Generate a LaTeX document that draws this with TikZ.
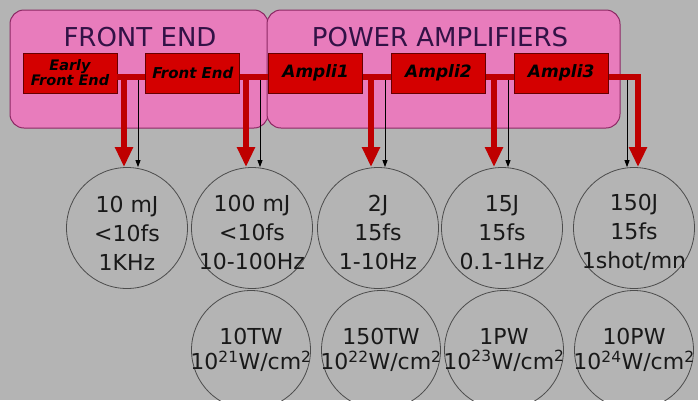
\documentclass[tikz,border=0pt]{standalone}
\usepackage{fontspec}
\setmainfont{DejaVu Sans}
\usetikzlibrary{positioning,arrows.meta}
\definecolor{fondo}{RGB}{180,180,180}
\definecolor{rosa}{RGB}{232,124,188}
\definecolor{rosaborde}{RGB}{140,40,100}
\definecolor{rojo}{RGB}{212,0,0}
\definecolor{titulo}{RGB}{50,18,70}

\begin{document}
\begin{tikzpicture}[x=1pt, y=-1pt, node distance=28pt, every node/.style={align=center, inner sep=0pt},
  grupo/.style={draw=rosaborde, line width=1pt, fill=rosa, rounded corners=14pt, minimum height=118pt},
  rotulo/.style={font=\fontsize{26}{28}\selectfont, text=titulo},
  caja/.style={draw=black!60!red, line width=0.8pt, fill=rojo, minimum width=94pt, minimum height=40pt, font=\bfseries\itshape\fontsize{15}{15}\selectfont},
  circulo/.style={circle, draw=black!70, line width=0.8pt, inner sep=-25pt, minimum size=121pt, font=\fontsize{22}{29}\selectfont, text=black!90},
  potencia/.style={circulo, minimum size=119pt, font=\fontsize{22}{25}\selectfont},
  linea/.style={draw=rojo!90!black, line width=5.5pt},
  flecha/.style={draw=rojo!90!black, line width=5.5pt, -{Triangle[width=17pt, length=20pt]}},
  flechita/.style={black, line width=0.8pt, -{Triangle[width=5pt, length=7pt]}}]
\useasboundingbox[fill=fondo] (0,0) rectangle (698,400);
\node[grupo, minimum width=258pt] (gfe) at (139,69) {};
\node[grupo, minimum width=353pt] (gpa) at (443.5,69) {};
\node[rotulo] (tfe) at (140,37) {FRONT END};
\node[rotulo] (tpa) at (440,37) {POWER AMPLIFIERS};
\node[caja, font=\bfseries\itshape\fontsize{14.5}{14}\selectfont] (efe) at (70,73) {Early\\Front End};
\node[caja, right=of efe] (fe) {Front End};
\node[caja, right=of fe, font=\bfseries\itshape\fontsize{17}{17}\selectfont] (a1) {Ampli1};
\node[caja, right=of a1, font=\bfseries\itshape\fontsize{17}{17}\selectfont] (a2) {Ampli2};
\node[caja, right=of a2, font=\bfseries\itshape\fontsize{17}{17}\selectfont] (a3) {Ampli3};
% haces
\node[circulo] (c1) at (127,228) {\rule{0pt}{26pt}10 mJ\\<10fs\\1KHz};
\node[circulo] (c2) at (252,228) {\rule{0pt}{26pt}100 mJ\\<10fs\\10-100Hz};
\node[circulo] (c3) at (378,228) {\rule{0pt}{26pt}2J\\15fs\\1-10Hz};
\node[circulo] (c4) at (502,228) {\rule{0pt}{26pt}15J\\15fs\\0.1-1Hz};
\node[circulo] (c5) at (634,228) {\rule{0pt}{26pt}150J\\15fs\\1shot/mn};
\node[potencia] (p2) at (251,350) {10TW\\10\textsuperscript{21}W/cm\textsuperscript{2}};
\node[potencia] (p3) at (381,350) {150TW\\10\textsuperscript{22}W/cm\textsuperscript{2}};
\node[potencia] (p4) at (504,350) {1PW\\10\textsuperscript{23}W/cm\textsuperscript{2}};
\node[potencia] (p5) at (634,350) {10PW\\10\textsuperscript{24}W/cm\textsuperscript{2}};
% salidas
\coordinate (r1) at (124,77); \coordinate (r2) at (246,77); \coordinate (r3) at (371,77); \coordinate (r4) at (494,77); \coordinate (r5) at (638,77);
\coordinate (n1) at (138,80); \coordinate (n2) at (260,80); \coordinate (n3) at (385,80); \coordinate (n4) at (508,80); \coordinate (n5) at (627,80);
\draw[linea] ([yshift=-4pt]efe.east) -- ([yshift=-4pt]fe.west); \draw[linea] ([yshift=-4pt]fe.east) -- ([yshift=-4pt]a1.west);
\draw[linea] ([yshift=-4pt]a1.east) -- ([yshift=-4pt]a2.west); \draw[linea] ([yshift=-4pt]a2.east) -- ([yshift=-4pt]a3.west);
\draw[flecha] (r1) -- (r1 |- c1.north); \draw[flecha] (r2) -- (r2 |- c2.north); \draw[flecha] (r3) -- (r3 |- c3.north);
\draw[flecha] (r4) -- (r4 |- c4.north); \draw[flecha] ([yshift=-4pt]a3.east) -| (r5 |- c5.north);
\draw[flechita] (n1) -- (n1 |- c1.north); \draw[flechita] (n2) -- (n2 |- c2.north); \draw[flechita] (n3) -- (n3 |- c3.north);
\draw[flechita] (n4) -- (n4 |- c4.north); \draw[flechita] (n5) -- (n5 |- c5.north);
\end{tikzpicture}
\end{document}
